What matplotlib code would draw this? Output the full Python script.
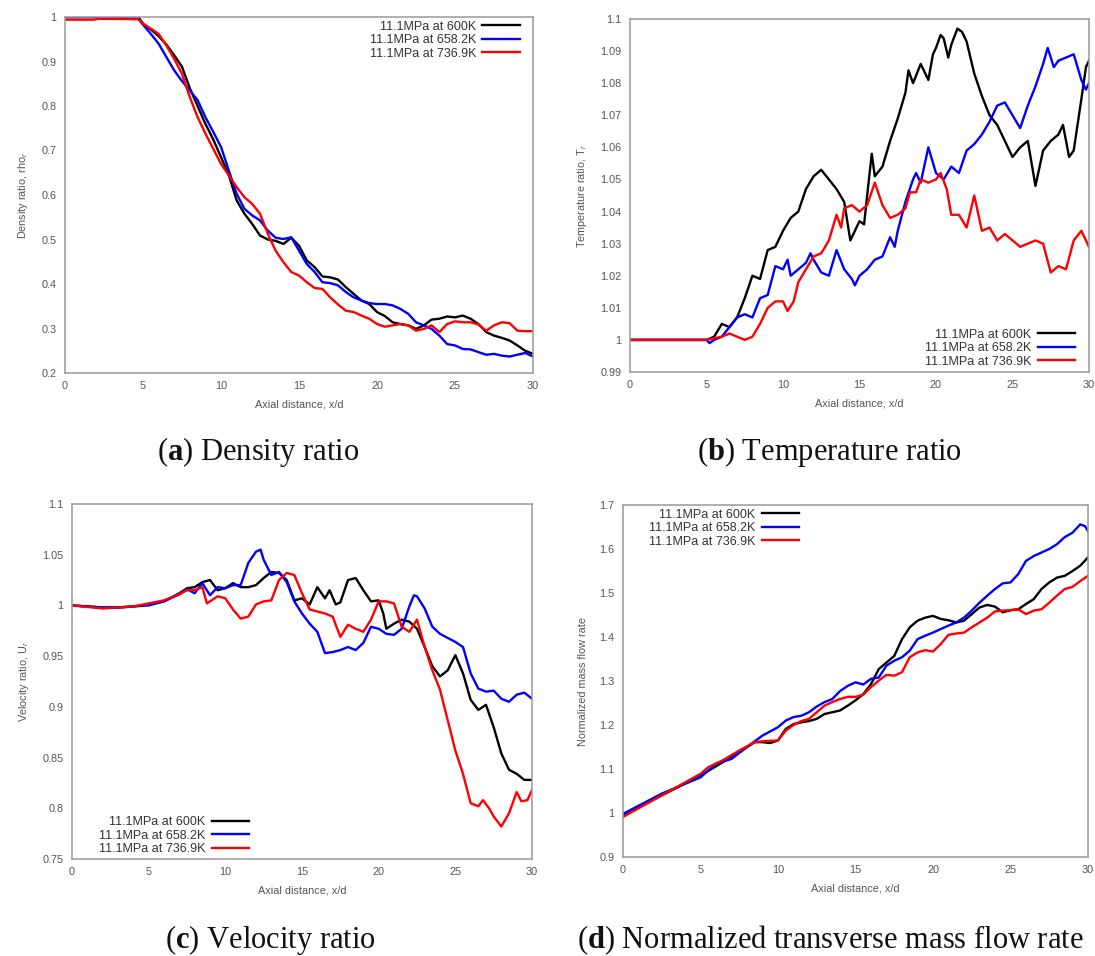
import matplotlib
matplotlib.use("Agg")
import matplotlib.pyplot as plt

plt.rcParams['font.family'] = ['Liberation Sans', 'DejaVu Sans']
plt.rcParams['mathtext.fontset'] = 'custom'
plt.rcParams['mathtext.rm'] = 'Liberation Serif'
plt.rcParams['mathtext.bf'] = 'Liberation Serif:bold'
plt.rcParams['mathtext.it'] = 'Liberation Sans:italic'

labels = ["11.1MPa at 600K", "11.1MPa at 658.2K", "11.1MPa at 736.9K"]
colors = ["#000000", "#0000ff", "#ff0000"]

# ---------------- (a) Density ratio ----------------
a_600 = [(0, 1.0), (4.7, 1.0), (5, 0.985), (5.5, 0.972), (6, 0.957), (6.5, 0.938), (7, 0.914),
         (7.5, 0.888), (8, 0.84), (8.5, 0.80), (9, 0.76), (9.5, 0.725), (10, 0.685), (10.5, 0.645),
         (11, 0.588), (11.5, 0.558), (12, 0.535), (12.5, 0.509), (13, 0.50), (13.5, 0.497),
         (14, 0.49), (14.5, 0.504), (15, 0.486), (15.5, 0.453), (16, 0.438), (16.5, 0.417),
         (17, 0.415), (17.5, 0.41), (18, 0.393), (18.5, 0.378), (19, 0.363), (19.5, 0.355),
         (20, 0.337), (20.5, 0.328), (21, 0.314), (21.5, 0.31), (22, 0.307), (22.5, 0.299),
         (23, 0.307), (23.5, 0.32), (24, 0.322), (24.5, 0.327), (25, 0.325), (25.5, 0.329),
         (26, 0.322), (26.5, 0.31), (27, 0.292), (27.5, 0.284), (28, 0.279), (28.5, 0.273),
         (29, 0.262), (29.5, 0.25), (30, 0.243)]
a_658 = [(0, 1.0), (4.6, 1.0), (5, 0.983), (5.5, 0.962), (6, 0.94), (6.5, 0.91), (7, 0.88),
         (7.5, 0.856), (8, 0.835), (8.5, 0.813), (9, 0.775), (9.5, 0.742), (10, 0.708),
         (10.5, 0.655), (11, 0.603), (11.5, 0.569), (12, 0.554), (12.5, 0.543), (13, 0.52),
         (13.5, 0.504), (14, 0.501), (14.5, 0.505), (15, 0.475), (15.5, 0.445), (16, 0.427),
         (16.5, 0.404), (17, 0.402), (17.5, 0.397), (18, 0.382), (18.5, 0.37), (19, 0.363),
         (19.5, 0.357), (20, 0.355), (20.5, 0.355), (21, 0.352), (21.5, 0.344), (22, 0.333),
         (22.5, 0.314), (23, 0.307), (23.5, 0.299), (24, 0.284), (24.5, 0.265), (25, 0.262),
         (25.5, 0.254), (26, 0.253), (26.5, 0.247), (27, 0.241), (27.5, 0.243), (28, 0.239),
         (28.5, 0.237), (29, 0.241), (29.5, 0.245), (30, 0.237)]
a_737 = [(0, 0.994), (1.8, 0.994), (2.2, 0.996), (4.7, 0.995), (5, 0.985), (5.5, 0.974),
         (6, 0.962), (6.5, 0.936), (7, 0.906), (7.5, 0.872), (8, 0.82), (8.5, 0.775), (9, 0.738),
         (9.5, 0.704), (10, 0.67), (10.5, 0.644), (11, 0.618), (11.5, 0.595), (12, 0.58),
         (12.5, 0.558), (13, 0.513), (13.5, 0.475), (14, 0.449), (14.5, 0.427), (15, 0.419),
         (15.5, 0.404), (16, 0.391), (16.5, 0.389), (17, 0.37), (17.5, 0.354), (18, 0.34),
         (18.5, 0.337), (19, 0.329), (19.5, 0.322), (20, 0.31), (20.5, 0.304), (21, 0.307),
         (21.5, 0.31), (22, 0.307), (22.5, 0.295), (23, 0.299), (23.5, 0.307), (24, 0.292),
         (24.5, 0.31), (25, 0.316), (25.5, 0.314), (26, 0.314), (26.5, 0.309), (27, 0.295),
         (27.5, 0.307), (28, 0.314), (28.5, 0.312), (29, 0.295), (29.5, 0.294), (30, 0.294)]

# ---------------- (b) Temperature ratio ----------------
b_600 = [(0, 1.0), (5, 1.0), (5.5, 1.001), (6, 1.005), (6.5, 1.004), (7, 1.007), (7.5, 1.013),
         (8, 1.02), (8.5, 1.019), (9, 1.028), (9.5, 1.029), (10, 1.034), (10.5, 1.038),
         (11, 1.04), (11.5, 1.047), (12, 1.051), (12.5, 1.053), (13, 1.05), (13.5, 1.047),
         (14, 1.043), (14.4, 1.031), (15, 1.037), (15.3, 1.036), (15.5, 1.045), (15.8, 1.058),
         (16, 1.051), (16.5, 1.054), (17, 1.062), (17.5, 1.069), (18, 1.077), (18.2, 1.084),
         (18.5, 1.08), (19, 1.086), (19.5, 1.081), (19.8, 1.089), (20, 1.091), (20.3, 1.095),
         (20.5, 1.094), (20.8, 1.088), (21, 1.092), (21.4, 1.097), (21.7, 1.096), (22, 1.093),
         (22.5, 1.083), (23, 1.076), (23.5, 1.07), (24, 1.067), (24.5, 1.062), (25, 1.057),
         (25.5, 1.06), (26, 1.062), (26.5, 1.048), (27, 1.059), (27.5, 1.062), (28, 1.064),
         (28.3, 1.067), (28.7, 1.057), (29, 1.059), (29.5, 1.075), (29.8, 1.085), (30, 1.087)]
b_658 = [(0, 1.0), (5, 1.0), (5.2, 0.999), (5.5, 1.0), (6, 1.001), (6.5, 1.004), (7, 1.007),
         (7.5, 1.008), (8, 1.007), (8.5, 1.013), (9, 1.014), (9.5, 1.023), (10, 1.022),
         (10.3, 1.025), (10.5, 1.02), (11, 1.022), (11.5, 1.024), (11.8, 1.027), (12, 1.025),
         (12.5, 1.021), (13, 1.02), (13.5, 1.028), (14, 1.022), (14.5, 1.019), (14.7, 1.017),
         (15, 1.02), (15.5, 1.022), (16, 1.025), (16.5, 1.026), (17, 1.032), (17.3, 1.029),
         (17.5, 1.034), (18, 1.043), (18.5, 1.05), (18.7, 1.052), (19, 1.049), (19.5, 1.06),
         (20, 1.052), (20.5, 1.05), (21, 1.054), (21.5, 1.052), (22, 1.059), (22.5, 1.061),
         (23, 1.064), (23.5, 1.068), (24, 1.073), (24.5, 1.074), (25, 1.07), (25.5, 1.066),
         (26, 1.073), (26.5, 1.079), (27, 1.086), (27.3, 1.091), (27.7, 1.085), (28, 1.087),
         (28.5, 1.088), (29, 1.089), (29.5, 1.081), (29.8, 1.078), (30, 1.08)]
b_737 = [(0, 1.0), (5, 1.0), (5.5, 1.0005), (6, 1.001), (6.5, 1.002), (7, 1.001), (7.5, 1.0),
         (8, 1.001), (8.5, 1.005), (9, 1.01), (9.5, 1.012), (10, 1.012), (10.3, 1.009),
         (10.7, 1.012), (11, 1.018), (11.5, 1.022), (12, 1.026), (12.5, 1.027), (13, 1.031),
         (13.5, 1.039), (13.8, 1.035), (14, 1.041), (14.5, 1.042), (15, 1.04), (15.5, 1.042),
         (16, 1.049), (16.5, 1.042), (17, 1.038), (17.5, 1.039), (18, 1.041), (18.3, 1.046),
         (18.7, 1.046), (19, 1.05), (19.5, 1.049), (20, 1.05), (20.3, 1.052), (20.7, 1.047),
         (21, 1.039), (21.5, 1.039), (22, 1.035), (22.5, 1.045), (23, 1.034), (23.5, 1.035),
         (24, 1.031), (24.5, 1.033), (25, 1.031), (25.5, 1.029), (26, 1.03), (26.5, 1.031),
         (27, 1.03), (27.5, 1.021), (28, 1.023), (28.5, 1.022), (29, 1.031), (29.5, 1.034),
         (30, 1.029)]

# ---------------- (c) Velocity ratio ----------------
c_600 = [(0, 1.0), (2, 0.998), (3, 0.998), (4, 0.999), (5, 1.001), (6, 1.004), (7, 1.012),
         (7.5, 1.017), (8, 1.018), (8.5, 1.023), (9, 1.025), (9.5, 1.015), (10, 1.017),
         (10.5, 1.022), (11, 1.018), (11.5, 1.018), (12, 1.02), (12.5, 1.027), (13, 1.033),
         (13.5, 1.032), (14, 1.025), (14.5, 1.005), (15, 1.007), (15.5, 1.001), (16, 1.018),
         (16.5, 1.007), (16.8, 1.015), (17.2, 1.001), (17.5, 1.003), (18, 1.025), (18.5, 1.027),
         (19, 1.015), (19.5, 1.004), (20, 1.005), (20.3, 0.992), (20.5, 0.977), (21, 0.982),
         (21.5, 0.986), (22, 0.984), (22.5, 0.977), (23, 0.959), (23.5, 0.94), (24, 0.93),
         (24.5, 0.936), (25, 0.951), (25.5, 0.933), (26, 0.907), (26.5, 0.897), (27, 0.902),
         (27.5, 0.88), (28, 0.854), (28.5, 0.838), (29, 0.834), (29.5, 0.828), (30, 0.828)]
c_658 = [(0, 1.0), (2, 0.998), (3, 0.998), (4, 0.999), (5, 1.0), (6, 1.004), (7, 1.011),
         (7.5, 1.016), (8, 1.012), (8.5, 1.022), (9, 1.01), (9.5, 1.018), (10, 1.017),
         (10.5, 1.02), (11, 1.02), (11.5, 1.042), (12, 1.053), (12.3, 1.055), (12.5, 1.045),
         (13, 1.03), (13.5, 1.033), (14, 1.023), (14.5, 1.004), (15, 0.992), (15.5, 0.982),
         (16, 0.974), (16.5, 0.953), (17, 0.954), (17.5, 0.956), (18, 0.959), (18.5, 0.956),
         (19, 0.963), (19.5, 0.979), (20, 0.977), (20.5, 0.972), (21, 0.971), (21.5, 0.977),
         (22, 0.999), (22.3, 1.01), (22.5, 1.009), (23, 0.997), (23.5, 0.979), (24, 0.972),
         (24.5, 0.968), (25, 0.964), (25.5, 0.959), (26, 0.933), (26.5, 0.918), (27, 0.915),
         (27.5, 0.916), (28, 0.908), (28.5, 0.905), (29, 0.912), (29.5, 0.914), (30, 0.908)]
c_737 = [(0, 1.0), (2, 0.997), (3, 0.998), (4, 0.999), (5, 1.002), (6, 1.005), (7, 1.011),
         (7.5, 1.015), (8, 1.015), (8.5, 1.018), (8.8, 1.002), (9, 1.004), (9.5, 1.009),
         (10, 1.007), (10.5, 0.996), (11, 0.987), (11.5, 0.989), (12, 1.001), (12.5, 1.004),
         (13, 1.005), (13.5, 1.025), (14, 1.032), (14.5, 1.03), (15, 1.012), (15.5, 0.996),
         (16, 0.994), (16.5, 0.992), (17, 0.989), (17.5, 0.969), (18, 0.981), (18.5, 0.977),
         (19, 0.974), (19.5, 0.986), (20, 1.004), (20.5, 1.004), (21, 1.002), (21.5, 0.979),
         (22, 0.974), (22.5, 0.986), (23, 0.959), (23.5, 0.936), (24, 0.917), (24.5, 0.887),
         (25, 0.857), (25.5, 0.834), (26, 0.805), (26.5, 0.802), (26.8, 0.808), (27.2, 0.8),
         (27.5, 0.792), (28, 0.782), (28.5, 0.795), (29, 0.816), (29.3, 0.807), (29.7, 0.808),
         (30, 0.818)]

# ---------------- (d) Normalized transverse mass flow rate ----------------
d_600 = [(0, 0.995), (2.5, 1.04), (5, 1.085), (7.5, 1.138), (8.5, 1.161), (9, 1.161),
         (9.5, 1.159), (10, 1.165), (10.5, 1.191), (11, 1.202), (11.5, 1.206), (12, 1.209),
         (12.5, 1.214), (13, 1.225), (13.5, 1.229), (14, 1.233), (14.5, 1.244), (15, 1.256),
         (15.5, 1.27), (16, 1.293), (16.5, 1.327), (17, 1.342), (17.5, 1.357), (18, 1.395),
         (18.5, 1.422), (19, 1.437), (19.5, 1.444), (20, 1.448), (20.5, 1.441), (21, 1.438),
         (21.5, 1.433), (22, 1.437), (22.5, 1.452), (23, 1.467), (23.5, 1.473), (24, 1.469),
         (24.5, 1.456), (25, 1.461), (25.5, 1.463), (26, 1.475), (26.5, 1.486), (27, 1.509),
         (27.5, 1.524), (28, 1.535), (28.5, 1.539), (29, 1.55), (29.5, 1.562), (30, 1.581)]
d_658 = [(0, 0.998), (2.5, 1.044), (5, 1.081), (6, 1.112), (7, 1.123), (8, 1.15), (9, 1.176),
         (10, 1.195), (10.5, 1.21), (11, 1.218), (11.5, 1.221), (12, 1.229), (12.5, 1.242),
         (13, 1.252), (13.5, 1.259), (14, 1.277), (14.5, 1.289), (15, 1.297), (15.5, 1.292),
         (16, 1.305), (16.5, 1.308), (17, 1.335), (17.5, 1.346), (18, 1.354), (18.5, 1.369),
         (19, 1.395), (19.5, 1.403), (20, 1.41), (20.5, 1.418), (21, 1.426), (21.5, 1.433),
         (22, 1.444), (22.5, 1.46), (23, 1.478), (23.5, 1.494), (24, 1.509), (24.5, 1.522),
         (25, 1.524), (25.5, 1.543), (26, 1.573), (26.5, 1.584), (27, 1.592), (27.5, 1.6),
         (28, 1.611), (28.5, 1.627), (29, 1.637), (29.5, 1.656), (29.8, 1.652), (30, 1.641)]
d_737 = [(0, 0.991), (2.5, 1.04), (5, 1.089), (5.5, 1.104), (6.5, 1.121), (7.5, 1.142),
         (8.5, 1.161), (9, 1.163), (10, 1.165), (10.5, 1.187), (11, 1.2), (11.5, 1.209),
         (12, 1.214), (12.5, 1.229), (13, 1.244), (13.5, 1.252), (14, 1.259), (14.5, 1.264),
         (15, 1.264), (15.5, 1.269), (16, 1.286), (16.5, 1.301), (17, 1.314), (17.5, 1.312),
         (18, 1.32), (18.5, 1.354), (19, 1.365), (19.5, 1.37), (20, 1.367), (20.5, 1.384),
         (21, 1.405), (21.5, 1.408), (22, 1.41), (22.5, 1.422), (23, 1.433), (23.5, 1.444),
         (24, 1.458), (24.5, 1.46), (25, 1.461), (25.5, 1.463), (26, 1.452), (26.5, 1.46),
         (27, 1.463), (27.5, 1.478), (28, 1.494), (28.5, 1.509), (29, 1.514), (29.5, 1.527),
         (30, 1.539)]

W, H = 1095, 956
fig = plt.figure(figsize=(W / 100, H / 100), dpi=100)


def make_ax(l, r, t, b):
    return fig.add_axes([l / W, 1 - b / H, (r - l) / W, (b - t) / H])


panels = [
    dict(box=(65, 533, 17, 373), data=[a_600, a_658, a_737], ylim=(0.2, 1.0),
         yticks=[0.2, 0.3, 0.4, 0.5, 0.6, 0.7, 0.8, 0.9, 1.0],
         yticklabels=["0.2", "0.3", "0.4", "0.5", "0.6", "0.7", "0.8", "0.9", "1"],
         ylabel="Density ratio, rho$_r$", loc="upper right", anchor=(29.15, 0.992),
         caption=r"($\mathbf{a}$) Density ratio", cap_xy=(258, 452)),
    dict(box=(630, 1089, 19, 372), data=[b_600, b_658, b_737], ylim=(0.99, 1.1),
         yticks=[0.99, 1.0, 1.01, 1.02, 1.03, 1.04, 1.05, 1.06, 1.07, 1.08, 1.09, 1.1],
         yticklabels=["0.99", "1", "1.01", "1.02", "1.03", "1.04", "1.05", "1.06", "1.07",
                      "1.08", "1.09", "1.1"],
         ylabel="Temperature ratio, T$_r$", loc="lower right", anchor=(29.09, 0.9913),
         caption=r"($\mathbf{b}$) Temperature ratio", cap_xy=(830, 452)),
    dict(box=(72, 532, 504, 859), data=[c_600, c_658, c_737], ylim=(0.75, 1.1),
         yticks=[0.75, 0.8, 0.85, 0.9, 0.95, 1.0, 1.05, 1.1],
         yticklabels=["0.75", "0.8", "0.85", "0.9", "0.95", "1", "1.05", "1.1"],
         ylabel="Velocity ratio, U$_r$", loc="lower right", anchor=(11.55, 0.7536),
         caption=r"($\mathbf{c}$) Velocity ratio", cap_xy=(270, 940)),
    dict(box=(623, 1088, 505, 857), data=[d_600, d_658, d_737], ylim=(0.9, 1.7),
         yticks=[0.9, 1.0, 1.1, 1.2, 1.3, 1.4, 1.5, 1.6, 1.7],
         yticklabels=["0.9", "1", "1.1", "1.2", "1.3", "1.4", "1.5", "1.6", "1.7"],
         ylabel="Normalized mass flow rate", loc="upper right", anchor=(11.37, 1.692),
         caption=r"($\mathbf{d}$) Normalized transverse mass flow rate", cap_xy=(830, 940)),
]

xticks = [0, 5, 10, 15, 20, 25, 30]
for p in panels:
    ax = make_ax(*p["box"])
    for series, col, lab in zip(p["data"], colors, labels):
        xs = [pt[0] for pt in series]
        ys = [pt[1] for pt in series]
        ax.plot(xs, ys, color=col, lw=1.7, label=lab, solid_joinstyle="round")
    ax.set_xlim(0, 30)
    ax.set_ylim(*p["ylim"])
    ax.set_xticks(xticks)
    ax.set_xticklabels([str(v) for v in xticks])
    ax.set_yticks(p["yticks"])
    ax.set_yticklabels(p["yticklabels"])
    ax.tick_params(length=0, labelsize=7.8, labelcolor="#555555", pad=6)
    for s in ax.spines.values():
        s.set_color("#999999")
        s.set_linewidth(1.1)
    ax.set_xlabel("Axial distance, x/d", fontsize=7.8, color="#555555", labelpad=6)
    ax.set_ylabel(p["ylabel"], fontsize=7.8, color="#555555", labelpad=8)
    leg = ax.legend(loc=p["loc"], bbox_to_anchor=p["anchor"], bbox_transform=ax.transData,
                    frameon=False, markerfirst=False, fontsize=9, handlelength=3.0,
                    labelspacing=0.12, handletextpad=0.5, borderaxespad=0.0, borderpad=0.0)
    for t in leg.get_texts():
        t.set_color("#333333")
    fig.text(p["cap_xy"][0] / W, 1 - p["cap_xy"][1] / H, p["caption"],
             fontsize=22, family="Liberation Serif", ha="center", va="center", color="#111111")

fig.savefig("out.png", dpi=100)
